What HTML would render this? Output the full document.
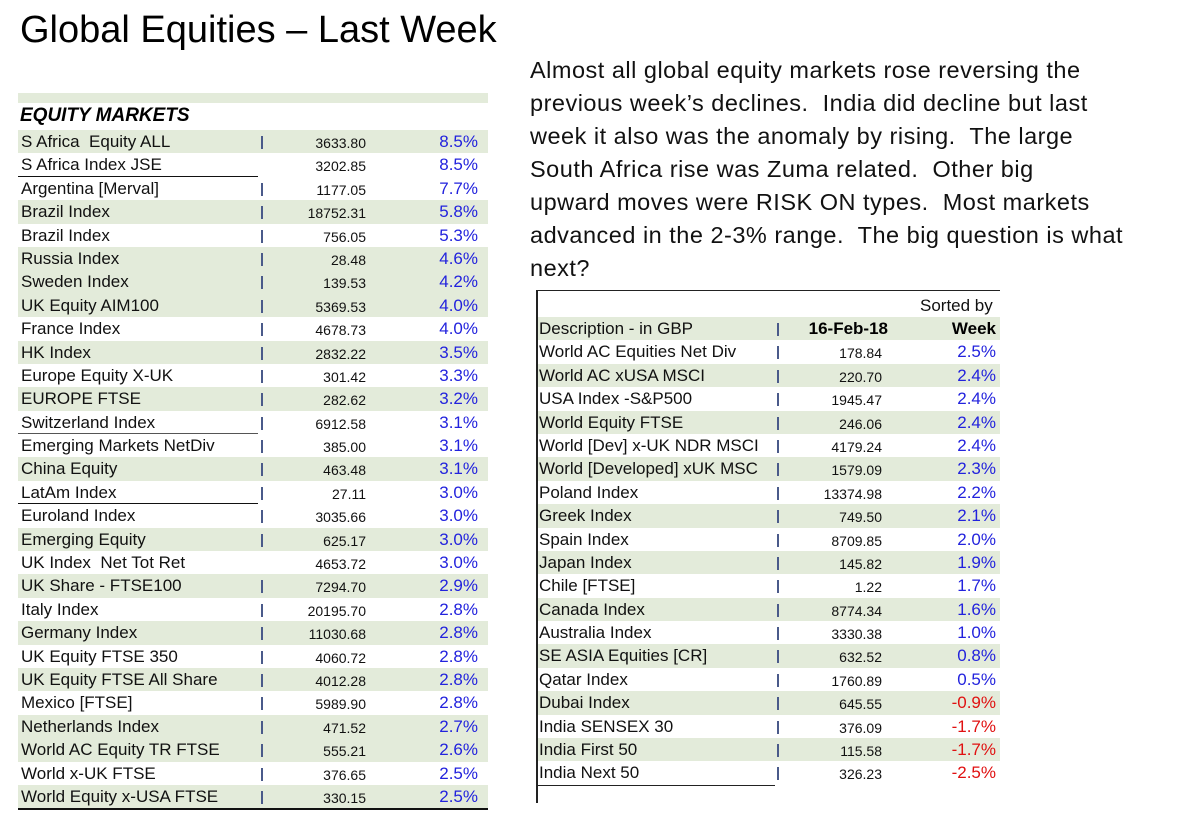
<!DOCTYPE html>
<html><head><meta charset="utf-8"><style>
body{margin:0;width:1182px;height:819px;background:#fff;position:relative;overflow:hidden;font-family:"Liberation Sans",sans-serif;}
.t{position:absolute;left:20px;top:9px;font-size:38px;color:#000;}
.p{position:absolute;left:530px;top:54px;width:650px;font-size:23.5px;letter-spacing:0.5px;line-height:33px;color:#111;white-space:nowrap}
.tab{position:absolute;}
.r{height:23.4px;position:relative;}
.s{background:#e3ebda;}
.r span{position:absolute;top:2px;white-space:nowrap}
.l{font-size:17px;left:3px;color:#111}
.b{width:2px;height:13px;background:#4a5a8a;top:6px!important}
.n{font-size:14px;top:5px!important;color:#111}
.c{font-size:17px;color:#2222dd}
.neg{color:#e01010}
</style></head><body>
<div class="t">Global Equities – Last Week</div>
<div class="p">Almost all global equity markets rose reversing the<br>previous week’s declines.&nbsp; India did decline but last<br>week it also was the anomaly by rising.&nbsp; The large<br>South Africa rise was Zuma related.&nbsp; Other big<br>upward moves were RISK ON types.&nbsp; Most markets<br>advanced in the 2-3% range.&nbsp; The big question is what<br>next?</div>

<div style="position:absolute;left:18px;top:93px;width:470px;height:10px;background:#e3ebda"></div>
<div style="position:absolute;left:20px;top:105px;font-size:19px;font-weight:bold;font-style:italic">EQUITY MARKETS</div>
<div style="position:absolute;left:18px;top:176px;width:240px;border-top:1.5px solid #111"></div>
<div style="position:absolute;left:18px;top:433px;width:240px;border-top:1.5px solid #555"></div>
<div style="position:absolute;left:18px;top:503px;width:240px;border-top:1.5px solid #111"></div>
<div style="position:absolute;left:18px;top:807px;width:470px;border-top:3px solid #111"></div>
<div class="tab" style="left:18px;top:130px;width:470px">
<style>.L .b{left:243px}.L .n{right:122px}.L .c{right:10px}.R .b{left:239px}.R .n{right:118px}.R .c{right:4px}</style>
<div class="L">
<div class="r s"><span class="l">S Africa &nbsp;Equity ALL</span><span class="b"></span><span class="n">3633.80</span><span class="c">8.5%</span></div>
<div class="r"><span class="l">S Africa Index JSE</span><span class="n">3202.85</span><span class="c">8.5%</span></div>
<div class="r"><span class="l">Argentina [Merval]</span><span class="b"></span><span class="n">1177.05</span><span class="c">7.7%</span></div>
<div class="r s"><span class="l">Brazil Index</span><span class="b"></span><span class="n">18752.31</span><span class="c">5.8%</span></div>
<div class="r"><span class="l">Brazil Index</span><span class="b"></span><span class="n">756.05</span><span class="c">5.3%</span></div>
<div class="r s"><span class="l">Russia Index</span><span class="b"></span><span class="n">28.48</span><span class="c">4.6%</span></div>
<div class="r s"><span class="l">Sweden Index</span><span class="b"></span><span class="n">139.53</span><span class="c">4.2%</span></div>
<div class="r s"><span class="l">UK Equity AIM100</span><span class="b"></span><span class="n">5369.53</span><span class="c">4.0%</span></div>
<div class="r"><span class="l">France Index</span><span class="b"></span><span class="n">4678.73</span><span class="c">4.0%</span></div>
<div class="r s"><span class="l">HK Index</span><span class="b"></span><span class="n">2832.22</span><span class="c">3.5%</span></div>
<div class="r"><span class="l">Europe Equity X-UK</span><span class="b"></span><span class="n">301.42</span><span class="c">3.3%</span></div>
<div class="r s"><span class="l">EUROPE FTSE</span><span class="b"></span><span class="n">282.62</span><span class="c">3.2%</span></div>
<div class="r"><span class="l">Switzerland Index</span><span class="b"></span><span class="n">6912.58</span><span class="c">3.1%</span></div>
<div class="r"><span class="l">Emerging Markets NetDiv</span><span class="b"></span><span class="n">385.00</span><span class="c">3.1%</span></div>
<div class="r s"><span class="l">China Equity</span><span class="b"></span><span class="n">463.48</span><span class="c">3.1%</span></div>
<div class="r"><span class="l">LatAm Index</span><span class="b"></span><span class="n">27.11</span><span class="c">3.0%</span></div>
<div class="r"><span class="l">Euroland Index</span><span class="b"></span><span class="n">3035.66</span><span class="c">3.0%</span></div>
<div class="r s"><span class="l">Emerging Equity</span><span class="b"></span><span class="n">625.17</span><span class="c">3.0%</span></div>
<div class="r"><span class="l">UK Index &nbsp;Net Tot Ret</span><span class="n">4653.72</span><span class="c">3.0%</span></div>
<div class="r s"><span class="l">UK Share - FTSE100</span><span class="b"></span><span class="n">7294.70</span><span class="c">2.9%</span></div>
<div class="r"><span class="l">Italy Index</span><span class="b"></span><span class="n">20195.70</span><span class="c">2.8%</span></div>
<div class="r s"><span class="l">Germany Index</span><span class="b"></span><span class="n">11030.68</span><span class="c">2.8%</span></div>
<div class="r"><span class="l">UK Equity FTSE 350</span><span class="b"></span><span class="n">4060.72</span><span class="c">2.8%</span></div>
<div class="r s"><span class="l">UK Equity FTSE All Share</span><span class="b"></span><span class="n">4012.28</span><span class="c">2.8%</span></div>
<div class="r"><span class="l">Mexico [FTSE]</span><span class="b"></span><span class="n">5989.90</span><span class="c">2.8%</span></div>
<div class="r s"><span class="l">Netherlands Index</span><span class="b"></span><span class="n">471.52</span><span class="c">2.7%</span></div>
<div class="r s"><span class="l">World AC Equity TR FTSE</span><span class="b"></span><span class="n">555.21</span><span class="c">2.6%</span></div>
<div class="r"><span class="l">World x-UK FTSE</span><span class="b"></span><span class="n">376.65</span><span class="c">2.5%</span></div>
<div class="r s"><span class="l">World Equity x-USA FTSE</span><span class="b"></span><span class="n">330.15</span><span class="c">2.5%</span></div>
</div></div>

<div style="position:absolute;left:536px;top:290px;width:462px;height:512px;border-left:2px solid #222;border-top:1.5px solid #222"></div>
<div style="position:absolute;left:920px;top:296px;font-size:17px;color:#111">Sorted by</div>
<div style="position:absolute;left:538px;top:785px;width:237px;border-top:1.5px solid #222"></div>
<div class="tab" style="left:538px;top:317px;width:462px">
<div class="R">
<div class="r s"><span class="l" style="left:1px">Description - in GBP</span><span class="b"></span><span style="right:112px;font-size:17px;font-weight:bold">16-Feb-18</span><span style="right:4px;font-size:17px;font-weight:bold">Week</span></div>
<div class="r"><span class="l" style="left:1px">World AC Equities Net Div</span><span class="b"></span><span class="n">178.84</span><span class="c">2.5%</span></div>
<div class="r s"><span class="l" style="left:1px">World AC xUSA MSCI</span><span class="b"></span><span class="n">220.70</span><span class="c">2.4%</span></div>
<div class="r"><span class="l" style="left:1px">USA Index -S&amp;P500</span><span class="b"></span><span class="n">1945.47</span><span class="c">2.4%</span></div>
<div class="r s"><span class="l" style="left:1px">World Equity FTSE</span><span class="b"></span><span class="n">246.06</span><span class="c">2.4%</span></div>
<div class="r"><span class="l" style="left:1px">World [Dev] x-UK NDR MSCI</span><span class="b"></span><span class="n">4179.24</span><span class="c">2.4%</span></div>
<div class="r s"><span class="l" style="left:1px">World [Developed] xUK MSC</span><span class="b"></span><span class="n">1579.09</span><span class="c">2.3%</span></div>
<div class="r"><span class="l" style="left:1px">Poland Index</span><span class="b"></span><span class="n">13374.98</span><span class="c">2.2%</span></div>
<div class="r s"><span class="l" style="left:1px">Greek Index</span><span class="b"></span><span class="n">749.50</span><span class="c">2.1%</span></div>
<div class="r"><span class="l" style="left:1px">Spain Index</span><span class="b"></span><span class="n">8709.85</span><span class="c">2.0%</span></div>
<div class="r s"><span class="l" style="left:1px">Japan Index</span><span class="b"></span><span class="n">145.82</span><span class="c">1.9%</span></div>
<div class="r"><span class="l" style="left:1px">Chile [FTSE]</span><span class="b"></span><span class="n">1.22</span><span class="c">1.7%</span></div>
<div class="r s"><span class="l" style="left:1px">Canada Index</span><span class="b"></span><span class="n">8774.34</span><span class="c">1.6%</span></div>
<div class="r"><span class="l" style="left:1px">Australia Index</span><span class="b"></span><span class="n">3330.38</span><span class="c">1.0%</span></div>
<div class="r s"><span class="l" style="left:1px">SE ASIA Equities [CR]</span><span class="b"></span><span class="n">632.52</span><span class="c">0.8%</span></div>
<div class="r"><span class="l" style="left:1px">Qatar Index</span><span class="b"></span><span class="n">1760.89</span><span class="c">0.5%</span></div>
<div class="r s"><span class="l" style="left:1px">Dubai Index</span><span class="b"></span><span class="n">645.55</span><span class="c neg">-0.9%</span></div>
<div class="r"><span class="l" style="left:1px">India SENSEX 30</span><span class="b"></span><span class="n">376.09</span><span class="c neg">-1.7%</span></div>
<div class="r s"><span class="l" style="left:1px">India First 50</span><span class="b"></span><span class="n">115.58</span><span class="c neg">-1.7%</span></div>
<div class="r"><span class="l" style="left:1px">India Next 50</span><span class="b"></span><span class="n">326.23</span><span class="c neg">-2.5%</span></div>
</div></div>
</body></html>
